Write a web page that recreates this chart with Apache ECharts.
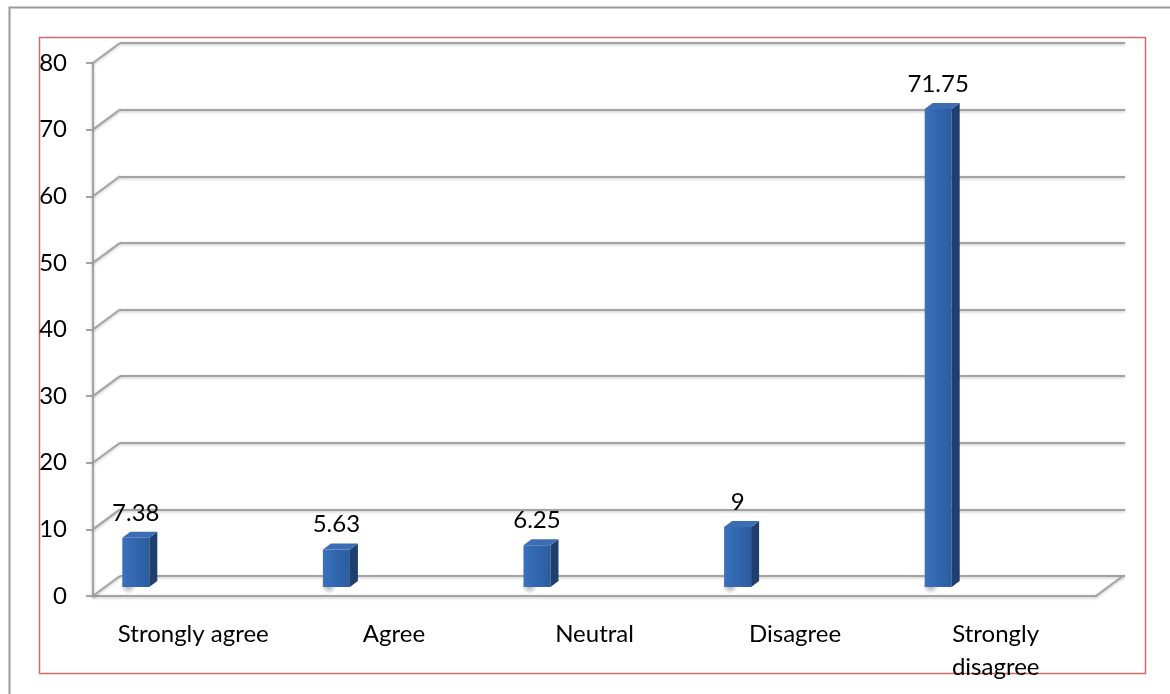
<!DOCTYPE html>
<html>
<head>
<meta charset="utf-8">
<script src="https://cdn.jsdelivr.net/npm/echarts@6/dist/echarts.min.js"></script>
<style>
html, body { margin: 0; padding: 0; background: #fff; }
#chart { width: 1170px; height: 694px; }
</style>
</head>
<body>
<div id="chart"></div>
<script>
// data
var categories = ['Strongly agree', 'Agree', 'Neutral', 'Disagree', 'Strongly\ndisagree'];
var values = [7.38, 5.63, 6.25, 9, 71.75];
var yTicks = [0, 10, 20, 30, 40, 50, 60, 70, 80];

var FONT = 'Lato';
var DX = 27, DY = -20;          // depth of the back wall
var gridColor = '#a4a4a4';
var lineShadow = { shadowColor: 'rgba(0,0,0,0.25)', shadowBlur: 3, shadowOffsetY: 1 };

var chart = echarts.init(document.getElementById('chart'));

// slanted lines from the front axis to the back wall
function renderLinks(params, api) {
    var p = api.coord([0, api.value(1)]);
    var half = api.size([1, 0])[0] / 2;
    var x = p[0] - half;
    return {
        type: 'line',
        shape: { x1: x, y1: p[1], x2: x + DX, y2: p[1] + DY },
        style: Object.assign({ stroke: gridColor, lineWidth: 2 }, lineShadow)
    };
}

// right edge of the floor
function renderFloorEdge(params, api) {
    var p = api.coord([api.value(0), 0]);
    var half = api.size([1, 0])[0] / 2;
    var x = p[0] + half;
    return {
        type: 'line',
        shape: { x1: x, y1: p[1], x2: x + DX, y2: p[1] + DY },
        style: Object.assign({ stroke: gridColor, lineWidth: 2 }, lineShadow)
    };
}

// 3d-looking column
function renderBar(params, api) {
    var idx = api.value(0), v = api.value(1);
    var base = api.coord([idx, 0]);
    var top = api.coord([idx, v]);
    var bw = 27, off = -71, lift = 9, sx = 8, sy = -6;
    var x = base[0] + off;
    var yB = base[1] - lift;
    var yT = top[1] - lift;
    return {
        type: 'group',
        children: [
            {
                type: 'ellipse',
                shape: { cx: x + 6, cy: yB - 1, rx: 32, ry: 8 },
                style: {
                    fill: new echarts.graphic.RadialGradient(0.5, 0.5, 0.5, [
                        { offset: 0, color: 'rgba(70,70,70,0.45)' },
                        { offset: 1, color: 'rgba(70,70,70,0)' }
                    ])
                }
            },
            {
                type: 'rect',
                shape: { x: x, y: yT, width: bw, height: yB - yT },
                style: {
                    fill: new echarts.graphic.LinearGradient(0, 0, 1, 0, [
                        { offset: 0, color: '#3a71bd' },
                        { offset: 1, color: '#2a5c9f' }
                    ])
                }
            },
            {
                type: 'polygon',
                shape: { points: [[x + bw, yT], [x + bw + sx, yT + sy], [x + bw + sx, yB + sy], [x + bw, yB]] },
                style: { fill: '#1f3f6f' }
            },
            {
                type: 'polygon',
                shape: { points: [[x, yT], [x + sx, yT + sy], [x + bw + sx, yT + sy], [x + bw, yT]] },
                style: { fill: '#3c6db4' }
            },
            {
                type: 'text',
                x: x + bw / 2,
                y: yT - 13,
                style: {
                    text: String(v),
                    align: 'center',
                    verticalAlign: 'bottom',
                    font: '24px ' + FONT,
                    fill: '#000'
                }
            }
        ]
    };
}

var option = {
    animation: false,
    backgroundColor: '#fff',
    graphic: [
        {
            type: 'rect', left: 7, top: 5, z: -10,
            shape: { width: 1200, height: 720 },
            style: { fill: 'none', stroke: '#9a9a9a', lineWidth: 2 }
        },
        {
            type: 'rect', left: 37, top: 35, z: -10,
            shape: { width: 1106, height: 636 },
            style: { fill: 'none', stroke: '#d06a6a', lineWidth: 1.5 }
        }
    ],
    grid: [
        { left: 93, right: 74, top: 63, bottom: 98 },
        { left: 120, right: 45, top: 43, bottom: 118 }
    ],
    xAxis: [
        {
            type: 'category',
            gridIndex: 0,
            data: categories,
            axisLine: { lineStyle: Object.assign({ color: gridColor, width: 2 }, lineShadow) },
            axisTick: { length: 8, lineStyle: { color: gridColor, width: 2 } },
            axisLabel: {
                interval: 0,
                margin: 22,
                color: '#000',
                fontFamily: FONT,
                fontSize: 24,
                lineHeight: 33
            }
        },
        {
            type: 'category',
            gridIndex: 1,
            data: categories,
            show: false
        }
    ],
    yAxis: [
        {
            type: 'value',
            gridIndex: 0,
            min: 0,
            max: 80,
            interval: 10,
            axisLine: { show: true, lineStyle: Object.assign({ color: gridColor, width: 2 }, lineShadow) },
            axisTick: { show: true, length: 7, lineStyle: { color: gridColor, width: 2 } },
            splitLine: { show: false },
            axisLabel: {
                margin: 26,
                color: '#000',
                fontFamily: FONT,
                fontSize: 24
            }
        },
        {
            type: 'value',
            gridIndex: 1,
            min: 0,
            max: 80,
            interval: 10,
            axisLine: { show: false },
            axisTick: { show: false },
            axisLabel: { show: false },
            splitLine: { lineStyle: Object.assign({ color: gridColor, width: 2 }, lineShadow) }
        }
    ],
    series: [
        {
            type: 'custom',
            xAxisIndex: 0,
            yAxisIndex: 0,
            renderItem: renderLinks,
            data: yTicks.map(function (t) { return [0, t]; }),
            encode: { x: 0, y: 1 },
            silent: true,
            z: 1
        },
        {
            type: 'custom',
            xAxisIndex: 0,
            yAxisIndex: 0,
            renderItem: renderFloorEdge,
            data: [[categories.length - 1, 0]],
            encode: { x: 0, y: 1 },
            silent: true,
            z: 1
        },
        {
            type: 'custom',
            xAxisIndex: 0,
            yAxisIndex: 0,
            renderItem: renderBar,
            data: values.map(function (v, i) { return [i, v]; }),
            encode: { x: 0, y: 1 },
            z: 5
        }
    ]
};

chart.setOption(option);
</script>
</body>
</html>
